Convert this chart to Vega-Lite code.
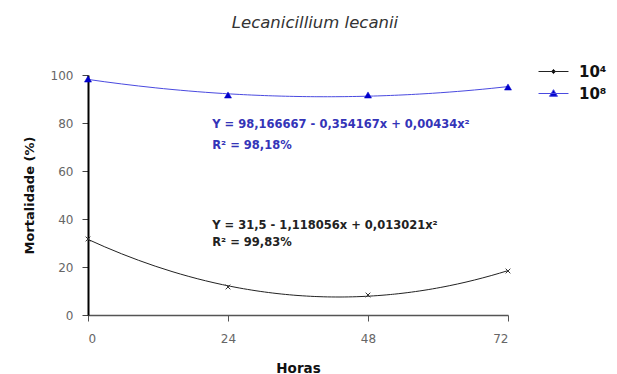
{
  "$schema": "https://vega.github.io/schema/vega-lite/v6.json",
  "width": 420,
  "height": 240,
  "autosize": {"type": "none"},
  "padding": {"left": 88, "top": 75, "right": 109, "bottom": 59},
  "background": "white",
  "config": {"view": {"stroke": null}, "font": "DejaVu Sans"},
  "title": {
    "text": "Lecanicillium lecanii",
    "font": "DejaVu Sans",
    "fontStyle": "italic",
    "fontWeight": "normal",
    "fontSize": 16.5,
    "color": "#333333",
    "frame": "group",
    "offset": 33,
    "dx": 17
  },
  "datasets": {
    "obs": [
      {"series": "10⁴", "x": 0, "y": 31.67},
      {"series": "10⁴", "x": 24, "y": 11.67},
      {"series": "10⁴", "x": 48, "y": 8.33},
      {"series": "10⁴", "x": 72, "y": 18.33},
      {"series": "10⁸", "x": 0, "y": 98.33},
      {"series": "10⁸", "x": 24, "y": 91.67},
      {"series": "10⁸", "x": 48, "y": 91.67},
      {"series": "10⁸", "x": 72, "y": 95.0}
    ],
    "eq": [
      {"series": "10⁸", "label": ["Y = 98,166667 - 0,354167x + 0,00434x²", "R² = 98,18%"]},
      {"series": "10⁴", "label": ["Y = 31,5 - 1,118056x + 0,013021x²", "R² = 99,83%"]}
    ]
  },
  "layer": [
    {
      "data": {"name": "obs"},
      "transform": [
        {"regression": "y", "on": "x", "groupby": ["series"], "method": "poly", "order": 2, "extent": [0, 72]}
      ],
      "mark": {"type": "line", "strokeWidth": 1},
      "encoding": {
        "x": {
          "field": "x",
          "type": "quantitative",
          "scale": {"domain": [0, 72], "nice": false},
          "axis": {
            "values": [0, 24, 48, 72],
            "title": "Horas",
            "grid": false,
            "domainColor": "#555555",
            "domainWidth": 1.5,
            "tickColor": "#555555",
            "tickSize": 6,
            "labelPadding": 12,
            "labelFont": "DejaVu Sans",
            "labelFontSize": 12,
            "labelColor": "#666666",
            "titleFont": "DejaVu Sans",
            "titleFontSize": 13.5,
            "titleFontWeight": "bold",
            "titleColor": "#111111",
            "titlePadding": 17
          }
        },
        "y": {
          "field": "y",
          "type": "quantitative",
          "scale": {"domain": [0, 100], "nice": false},
          "axis": {
            "values": [0, 20, 40, 60, 80, 100],
            "title": "Mortalidade (%)",
            "grid": false,
            "domainColor": "#000000",
            "domainWidth": 2,
            "tickColor": "#444444",
            "tickSize": 6,
            "labelPadding": 9,
            "labelFont": "DejaVu Sans",
            "labelFontSize": 12,
            "labelColor": "#666666",
            "titleFont": "DejaVu Sans",
            "titleFontSize": 13,
            "titleFontWeight": "bold",
            "titleColor": "#111111",
            "titlePadding": 14
          }
        },
        "color": {
          "field": "series",
          "type": "nominal",
          "scale": {"domain": ["10⁴", "10⁸"], "range": ["#222222", "#4a4ae0"]},
          "legend": {
            "title": null,
            "orient": "none",
            "legendX": 458,
            "legendY": -11,
            "padding": 0,
            "labelFont": "DejaVu Sans",
            "labelFontWeight": "bold",
            "labelFontSize": 15,
            "labelColor": "#111111",
            "symbolSize": 196,
            "labelOffset": 18,
            "rowPadding": 6,
            "symbolStrokeWidth": 1,
            "encode": {
              "symbols": {
                "update": {
                  "shape": {"signal": "datum.value === '10⁴' ? 'M-2.14,0L2.14,0M-0.3,0L0,-0.3L0.3,0L0,0.3Z' : 'M-2.14,0L2.14,0M-0.57,0.4L0,-0.55L0.57,0.4Z'"},
                  "fill": {"signal": "datum.value === '10⁴' ? '#000000' : '#0000cc'"},
                  "stroke": {"signal": "datum.value === '10⁴' ? '#222222' : '#4a4ae0'"},
                  "strokeWidth": {"value": 1}
                }
              }
            }
          }
        }
      }
    },
    {
      "data": {"name": "obs"},
      "transform": [{"filter": "datum.series === '10⁴'"}],
      "mark": {"type": "point", "shape": "M-1,-1L1,1M-1,1L1,-1", "filled": false, "stroke": "#333333", "strokeWidth": 1, "size": 22, "opacity": 1},
      "encoding": {
        "x": {"field": "x", "type": "quantitative"},
        "y": {"field": "y", "type": "quantitative"}
      }
    },
    {
      "data": {"name": "obs"},
      "transform": [{"filter": "datum.series === '10⁸'"}],
      "mark": {"type": "point", "shape": "triangle-up", "filled": true, "fill": "#0000cc", "stroke": "#0000cc", "strokeWidth": 0.5, "size": 50, "opacity": 1},
      "encoding": {
        "x": {"field": "x", "type": "quantitative"},
        "y": {"field": "y", "type": "quantitative"}
      }
    },
    {
      "data": {"name": "eq"},
      "transform": [{"filter": "datum.series === '10⁸'"}],
      "mark": {"type": "text", "align": "left", "baseline": "alphabetic", "font": "DejaVu Sans", "fontWeight": "bold", "fontSize": 11.5, "color": "#3434b8", "lineHeight": 21},
      "encoding": {
        "x": {"datum": 21.3, "type": "quantitative"},
        "y": {"datum": 78.1, "type": "quantitative"},
        "text": {"field": "label"}
      }
    },
    {
      "data": {"name": "eq"},
      "transform": [{"filter": "datum.series === '10⁴'"}],
      "mark": {"type": "text", "align": "left", "baseline": "alphabetic", "font": "DejaVu Sans", "fontWeight": "bold", "fontSize": 11.5, "color": "#222222", "lineHeight": 17},
      "encoding": {
        "x": {"datum": 21.3, "type": "quantitative"},
        "y": {"datum": 35.8, "type": "quantitative"},
        "text": {"field": "label"}
      }
    }
  ]
}
